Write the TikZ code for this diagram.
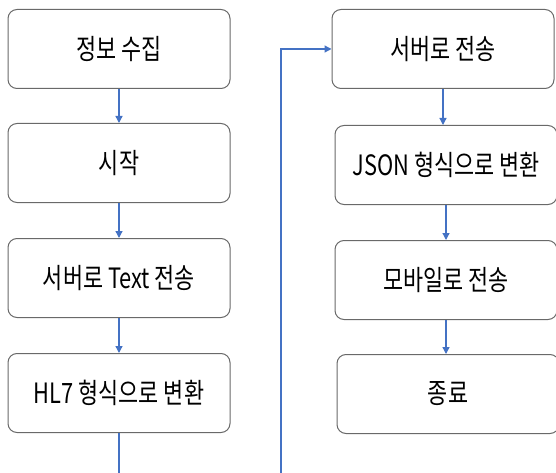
\documentclass[tikz,border=0pt]{standalone}
\usepackage{fontspec}
\newfontfamily\kr[FakeStretch=0.78]{Noto Sans CJK KR}
\usetikzlibrary{arrows.meta}
\definecolor{arrowblue}{RGB}{68,114,196}
\definecolor{boxgray}{RGB}{105,105,105}
\begin{document}
\begin{tikzpicture}[x=1pt,y=-1pt,
  stepbox/.style={draw=boxgray,line width=1pt,rounded corners=9pt,minimum width=222pt,minimum height=79pt,inner sep=0pt,font=\kr\fontsize{28}{32}\selectfont,fill=white},
  flow/.style={draw=arrowblue,line width=1.3pt,-{Triangle[length=7pt,width=7pt]}},
  plainflow/.style={draw=arrowblue,line width=1.3pt}]
\useasboundingbox (0,0) rectangle (556,473);
\node[stepbox] (a1) at (119,49) {정보 수집};
\node[stepbox] (a2) at (119,163) {시작};
\node[stepbox] (a3) at (119,278) {서버로 Text 전송};
\node[stepbox] (a4) at (119,393) {HL7 형식으로 변환};
\node[stepbox] (b1) at (443,49) {서버로 전송};
\node[stepbox] (b2) at (446,165) {JSON 형식으로 변환};
\node[stepbox] (b3) at (446,280) {모바일로 전송};
\node[stepbox] (b4) at (448,394) {종료};
\coordinate (d1) at (119,473);
\coordinate (u1) at (281,473);
\draw[flow] (a1) -- (a2);
\draw[flow] (a2) -- (a3);
\draw[flow] (a3) -- (a4);
\draw[plainflow] (a4) -- (d1);
\draw[flow] (u1) |- (b1);
\draw[flow] (b1.south) -- (b1.south |- b2.north);
\draw[flow] (b2.south) -- (b2.south |- b3.north);
\draw[flow] (b3.south) -- (b3.south |- b4.north);
\end{tikzpicture}
\end{document}
